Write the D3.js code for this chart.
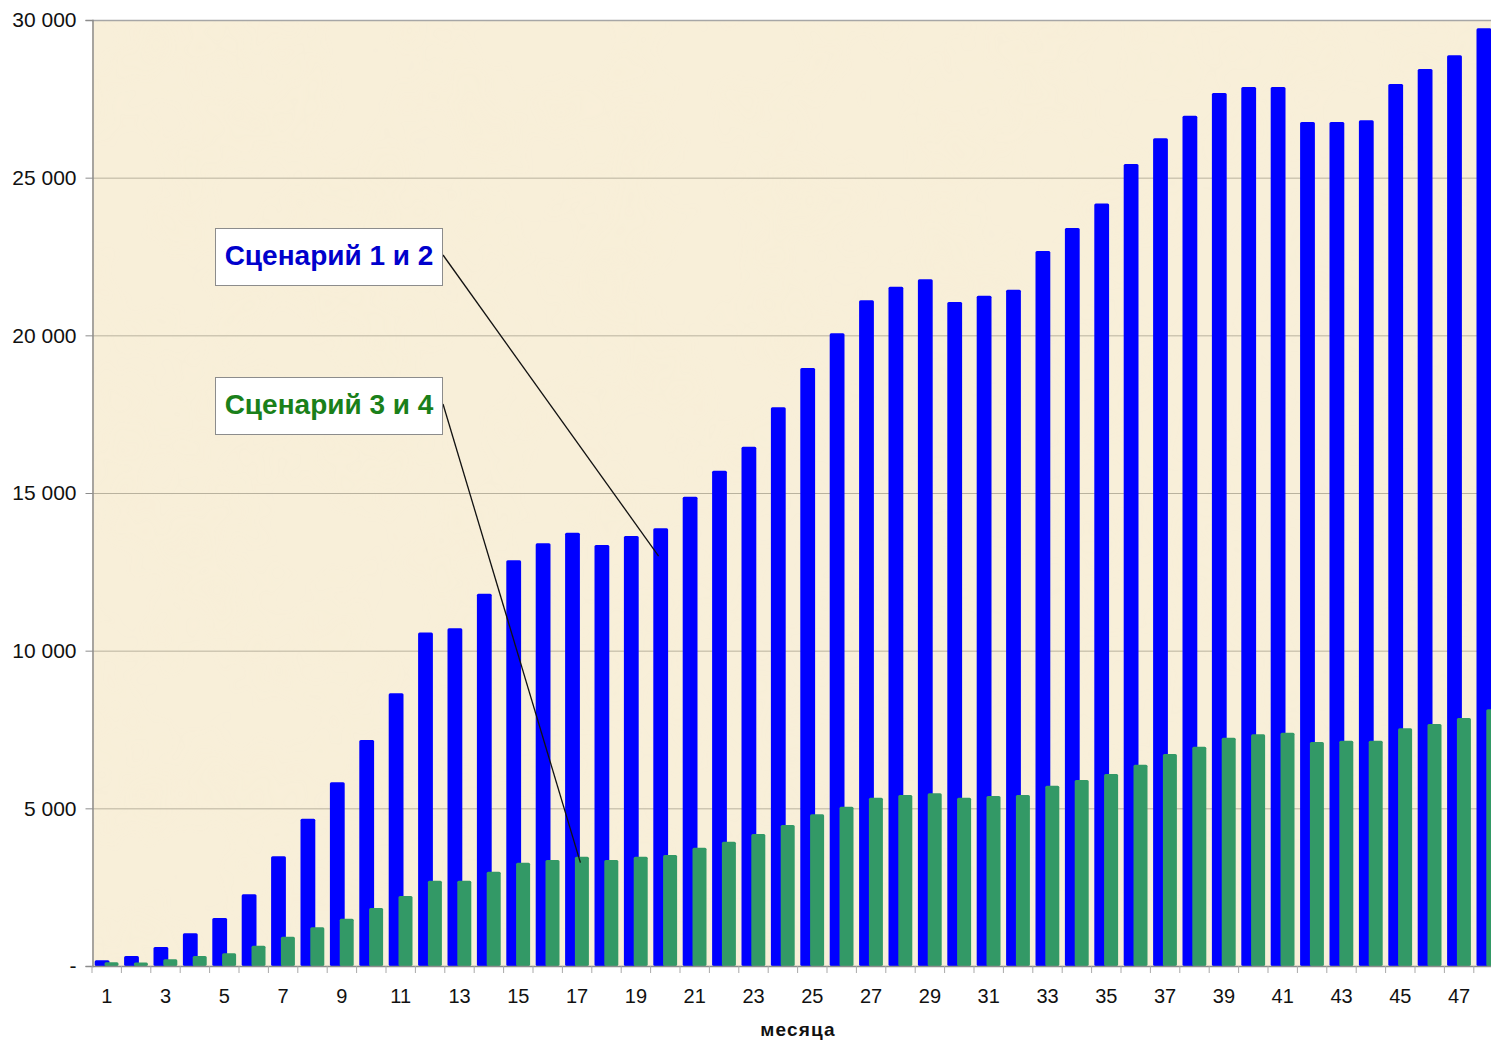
<!DOCTYPE html>
<html>
<head>
<meta charset="utf-8">
<script src="https://cdn.jsdelivr.net/npm/d3@7"></script>
<style>
  body { margin: 0; background: #fff; }
  svg { display: block; font-family: Arial, "Liberation Sans", sans-serif; }
</style>
</head>
<body>
<div id="chart"></div>
<script>
// months 1..48
var months = d3.range(1, 49);

// Сценарий 1 и 2
var scen12 = [180, 317, 603, 1037, 1522, 2273, 3478, 4672, 5825, 7167,
              8650, 10580, 10710, 11807, 12866, 13405, 13742, 13351, 13637, 13880,
              14884, 15708, 16469, 17718, 18965, 20064, 21111, 21543, 21777, 21057,
              21258, 21448, 22675, 23404, 24180, 25434, 26248, 26966, 27685, 27876,
              27876, 26766, 26766, 26820, 27971, 28446, 28880, 29737];

// Сценарий 3 и 4
var scen34 = [117, 110, 212, 317, 402, 645, 930, 1226, 1501, 1839,
              2220, 2706, 2706, 2991, 3277, 3362, 3467, 3362, 3467, 3520,
              3753, 3943, 4186, 4471, 4809, 5053, 5338, 5423, 5476, 5338,
              5391, 5423, 5714, 5899, 6089, 6384, 6723, 6955, 7240, 7346,
              7399, 7104, 7145, 7145, 7537, 7674, 7865, 8140];

var yTicks = [0, 5000, 10000, 15000, 20000, 25000, 30000];
var xLabels = months.filter(function (m) { return m % 2 === 1; });

var width = 1491, height = 1042;
var plotLeft = 92, plotTop = 20, plotBottom = 966;
var band = 29.4;

var svg = d3.select("#chart").append("svg")
    .attr("width", width)
    .attr("height", height);

var x = d3.scaleBand().domain(months).range([plotLeft, plotLeft + band * months.length]);
var y = d3.scaleLinear().domain([0, 30000]).range([plotBottom, plotTop]);

// parchment background
var defs = svg.append("defs");
var filt = defs.append("filter").attr("id", "paper")
    .attr("x", 0).attr("y", 0).attr("width", "100%").attr("height", "100%");
filt.append("feTurbulence").attr("type", "fractalNoise")
    .attr("baseFrequency", 0.012).attr("numOctaves", 3).attr("seed", 4);
filt.append("feColorMatrix").attr("type", "matrix")
    .attr("values", "0 0 0 0 0.93  0 0 0 0 0.85  0 0 0 0 0.66  0 0 0 0.9 -0.35");

svg.append("rect")
    .attr("x", plotLeft).attr("y", plotTop)
    .attr("width", width - plotLeft).attr("height", plotBottom - plotTop)
    .attr("fill", "#f8efd9");
svg.append("rect")
    .attr("x", plotLeft).attr("y", plotTop)
    .attr("width", width - plotLeft).attr("height", plotBottom - plotTop)
    .attr("filter", "url(#paper)")
    .attr("opacity", 0.45);

// gridlines
svg.append("g").selectAll("line")
    .data(yTicks.filter(function (d) { return d > 0; }))
    .enter().append("line")
    .attr("x1", plotLeft).attr("x2", width)
    .attr("y1", function (d) { return y(d) + 0.5; })
    .attr("y2", function (d) { return y(d) + 0.5; })
    .attr("stroke", function (d) { return d === 30000 ? "#a6a6a6" : "#b9b29e"; })
    .attr("stroke-width", function (d) { return d === 30000 ? 1.5 : 1; });

// y axis
var yAxis = svg.append("g")
    .attr("transform", "translate(" + (plotLeft + 0.5) + ",0)")
    .call(d3.axisLeft(y).tickValues(yTicks).tickSize(7).tickPadding(9)
        .tickFormat(function (d) { return d === 0 ? "-" : d3.format(",")(d).replace(",", " "); }));
yAxis.select(".domain").attr("stroke", "#8c8c8c").attr("stroke-width", 1.5);
yAxis.selectAll(".tick line").attr("stroke", "#8c8c8c");
yAxis.selectAll(".tick text")
    .attr("font-size", 21).attr("fill", "#111")
    .attr("font-family", "Arial, 'Liberation Sans', sans-serif");

// bars
svg.append("g").selectAll("rect")
    .data(scen12)
    .enter().append("rect")
    .attr("x", function (d, i) { return x(months[i]) + 2.7; })
    .attr("width", 14.8)
    .attr("y", function (d) { return y(d); })
    .attr("height", function (d) { return y(0) - y(d); })
    .attr("rx", 1.5)
    .attr("fill", "#0000ff");

svg.append("g").selectAll("rect")
    .data(scen34)
    .enter().append("rect")
    .attr("x", function (d, i) { return x(months[i]) + 12.5; })
    .attr("width", 14)
    .attr("y", function (d) { return y(d); })
    .attr("height", function (d) { return y(0) - y(d); })
    .attr("rx", 1.5)
    .attr("fill", "#339966");

// x axis
svg.append("line")
    .attr("x1", plotLeft).attr("x2", width)
    .attr("y1", plotBottom + 0.5).attr("y2", plotBottom + 0.5)
    .attr("stroke", "#8c8c8c").attr("stroke-width", 1.5);
svg.append("g").selectAll("line")
    .data(months.concat([49]))
    .enter().append("line")
    .attr("x1", function (d) { return plotLeft + (d - 1) * x.step(); })
    .attr("x2", function (d) { return plotLeft + (d - 1) * x.step(); })
    .attr("y1", plotBottom).attr("y2", plotBottom + 7)
    .attr("stroke", "#a9a9a9");
svg.append("g").selectAll("text")
    .data(xLabels)
    .enter().append("text")
    .attr("x", function (d) { return x(d) + x.bandwidth() / 2; })
    .attr("y", 1003)
    .attr("text-anchor", "middle")
    .attr("font-size", 20)
    .attr("fill", "#111")
    .text(function (d) { return d; });

svg.append("text")
    .attr("x", 798).attr("y", 1036)
    .attr("text-anchor", "middle")
    .attr("font-size", 19).attr("font-weight", "bold")
    .attr("letter-spacing", 1.2)
    .attr("fill", "#111")
    .text("месяца");

// callouts
var callouts = [
  { text: "Сценарий 1 и 2", color: "#0000cc", y0: 228, month: 20, value: 13000, dx: 8 },
  { text: "Сценарий 3 и 4", color: "#1a801a", y0: 377, month: 17, value: 3280, dx: 18 }
];
callouts.forEach(function (c) {
  svg.append("line")
      .attr("x1", 443).attr("y1", c.y0 + 27)
      .attr("x2", x(c.month) + c.dx).attr("y2", y(c.value))
      .attr("stroke", "#111").attr("stroke-width", 1.3);
  svg.append("rect")
      .attr("x", 215.5).attr("y", c.y0 + 0.5)
      .attr("width", 227).attr("height", 57)
      .attr("fill", "#fff").attr("stroke", "#8c8c8c").attr("stroke-width", 1);
  svg.append("text")
      .attr("x", 329).attr("y", c.y0 + 37)
      .attr("text-anchor", "middle")
      .attr("font-size", 28).attr("font-weight", "bold")
      .attr("fill", c.color)
      .text(c.text);
});
</script>
</body>
</html>
